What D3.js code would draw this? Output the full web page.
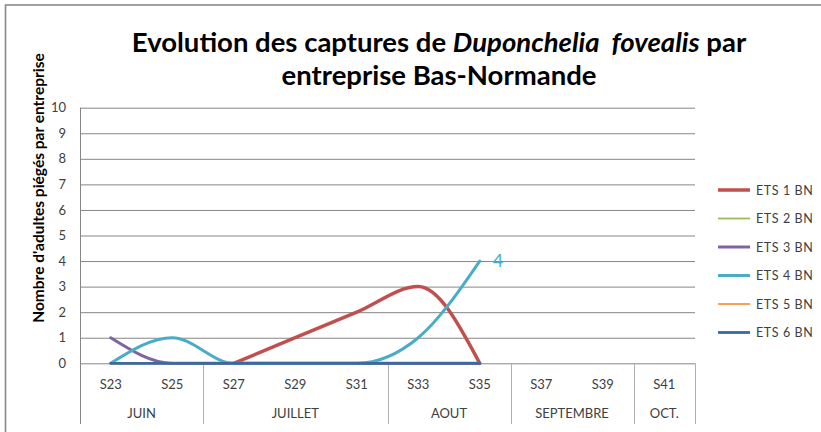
<!DOCTYPE html>
<html>
<head>
<meta charset="utf-8">
<script src="https://cdn.jsdelivr.net/npm/d3@7"></script>
<style>
  html, body { margin: 0; padding: 0; background: #fff; }
  svg { display: block; }
  text { font-family: Lato, "Open Sans", sans-serif; }
</style>
</head>
<body>
<div id="chart"></div>
<script>
const width = 821;
const height = 432;

// data
const weeks = ["S23", "S25", "S27", "S29", "S31", "S33", "S35", "S37", "S39", "S41"];
const months = ["JUIN", "JUILLET", "AOUT", "SEPTEMBRE", "OCT."];
const monthWeeks = [["S23", "S25"], ["S27", "S29", "S31"], ["S33", "S35"], ["S37", "S39"], ["S41"]];
const seriesNames = ["ETS 1 BN", "ETS 2 BN", "ETS 3 BN", "ETS 4 BN", "ETS 5 BN", "ETS 6 BN"];
const ets1 = [null, null, 0, 1, 2, 3, 0, null, null, null];
const ets2 = [0, 0, 0, 0, 0, 0, 0, null, null, null];
const ets3 = [1, 0, 0, 0, 0, 0, 0, null, null, null];
const ets4 = [0, 1, 0, 0, 0, 1, 4, null, null, null];
const ets5 = [0, 0, 0, 0, 0, 0, 0, null, null, null];
const ets6 = [0, 0, 0, 0, 0, 0, 0, null, null, null];
const yTicks = [0, 1, 2, 3, 4, 5, 6, 7, 8, 9, 10];

const seriesValues = [ets1, ets2, ets3, ets4, ets5, ets6];
const colors = ["#C0504D", "#9BBB59", "#8064A2", "#4BACC6", "#F79646", "#3B69A2"];
const strokeWidths = [3.5, 1.8, 3, 3, 1.8, 2.8];
const gridColor = "#868686";

const plot = { left: 80, right: 695, top: 107.7, bottom: 363.3, axisBottom: 424 };

const svg = d3.select("#chart")
    .append("svg")
    .attr("width", width)
    .attr("height", height)
    .style("background-color", "#fff");

// outer chart frame (runs off the right and bottom edges)
svg.append("rect")
    .attr("x", 5.5).attr("y", 5)
    .attr("width", 900).attr("height", 500)
    .attr("fill", "none")
    .attr("stroke", "#8a8a8a")
    .attr("stroke-width", 1.6);

const x = d3.scaleBand().domain(weeks).range([plot.left, plot.right]).paddingInner(0).paddingOuter(0);
const y = d3.scaleLinear().domain([0, 10]).range([plot.bottom, plot.top]);
const xc = w => x(w) + x.bandwidth() / 2;

// horizontal gridlines
const grid = svg.append("g")
    .attr("transform", `translate(${plot.left},0)`)
    .call(d3.axisLeft(y).tickValues(yTicks.filter(t => t > 0)).tickSize(-(plot.right - plot.left)).tickFormat(""));
grid.select(".domain").remove();
grid.selectAll(".tick line").attr("stroke", gridColor).attr("stroke-width", 1);

// y tick labels
const yAxis = svg.append("g")
    .attr("transform", `translate(${plot.left - 14},0)`)
    .call(d3.axisLeft(y).tickValues(yTicks).tickSize(0).tickPadding(0).tickFormat(d3.format("d")));
yAxis.select(".domain").remove();
yAxis.selectAll("text")
    .attr("font-family", "Lato, 'Open Sans', sans-serif")
    .attr("font-size", 13)
    .attr("fill", "#404040");

// x axis line + week labels
const xAxis = svg.append("g")
    .attr("transform", `translate(0,${plot.bottom})`)
    .call(d3.axisBottom(x).tickSize(0).tickPadding(0));
xAxis.select(".domain").attr("stroke", gridColor).attr("d", `M${plot.left},0.5H${plot.right}`);
xAxis.selectAll("text")
    .attr("y", 26)
    .attr("dy", 0)
    .attr("font-family", "Lato, 'Open Sans', sans-serif")
    .attr("font-size", 13)
    .attr("fill", "#404040");

// y axis line
svg.append("line")
    .attr("x1", plot.left + 0.5).attr("x2", plot.left + 0.5)
    .attr("y1", plot.top).attr("y2", plot.axisBottom)
    .attr("stroke", gridColor);

// month group separators and labels
monthWeeks.forEach((ws, i) => {
    const x1 = x(ws[ws.length - 1]) + x.bandwidth();
    svg.append("line")
        .attr("x1", Math.round(x1) + 0.5).attr("x2", Math.round(x1) + 0.5)
        .attr("y1", plot.bottom).attr("y2", plot.axisBottom)
        .attr("stroke", "#b0b0b0");
    const cx = (x(ws[0]) + x1) / 2;
    svg.append("text")
        .attr("x", cx).attr("y", plot.bottom + 55)
        .attr("text-anchor", "middle")
        .attr("font-size", 13)
        .attr("fill", "#404040")
        .text(months[i]);
});

// series (smoothed lines)
const line = d3.line()
    .defined(d => d != null)
    .x((d, i) => xc(weeks[i]))
    .y(d => y(d))
    .curve(d3.curveMonotoneX);

seriesValues.forEach((vals, i) => {
    svg.append("path")
        .datum(vals)
        .attr("d", line)
        .attr("fill", "none")
        .attr("stroke", colors[i])
        .attr("stroke-width", strokeWidths[i])
        .attr("stroke-linecap", "round")
        .attr("stroke-linejoin", "round");
});

// data label on the last ETS 4 point
const lastIdx = ets4.reduce((a, v, i) => v != null ? i : a, 0);
svg.append("text")
    .attr("x", xc(weeks[lastIdx]) + 13)
    .attr("y", y(ets4[lastIdx]) + 6)
    .attr("font-size", 18)
    .attr("fill", colors[3])
    .text(ets4[lastIdx]);

// legend
const legend = svg.append("g").attr("transform", "translate(718,190)");
seriesNames.forEach((name, i) => {
    const g = legend.append("g").attr("transform", `translate(0,${i * 28.5})`);
    g.append("line")
        .attr("x1", 0).attr("x2", 32)
        .attr("stroke", colors[i])
        .attr("stroke-width", strokeWidths[i]);
    g.append("text")
        .attr("x", 38).attr("y", 4.5)
        .attr("font-size", 12.5)
        .attr("letter-spacing", 0.6)
        .attr("fill", "#404040")
        .text(name);
});

// y axis title
svg.append("text")
    .attr("transform", "translate(44,188) rotate(-90)")
    .attr("text-anchor", "middle")
    .attr("font-size", 15.5)
    .attr("font-weight", "bold")
    .attr("fill", "#000")
    .text("Nombre d'adultes piégés par entreprise");

// title
const title = svg.append("text")
    .attr("x", 439)
    .attr("y", 52)
    .attr("text-anchor", "middle")
    .attr("font-size", 27.5)
    .attr("font-weight", "bold")
    .attr("fill", "#000")
    .style("white-space", "pre");
title.append("tspan").text("Evolution des captures de ");
title.append("tspan").attr("font-style", "italic").text("Duponchelia  fovealis");
title.append("tspan").text(" par");

svg.append("text")
    .attr("x", 439)
    .attr("y", 85)
    .attr("text-anchor", "middle")
    .attr("font-size", 27.5)
    .attr("font-weight", "bold")
    .attr("fill", "#000")
    .text("entreprise Bas-Normande");
</script>
</body>
</html>
